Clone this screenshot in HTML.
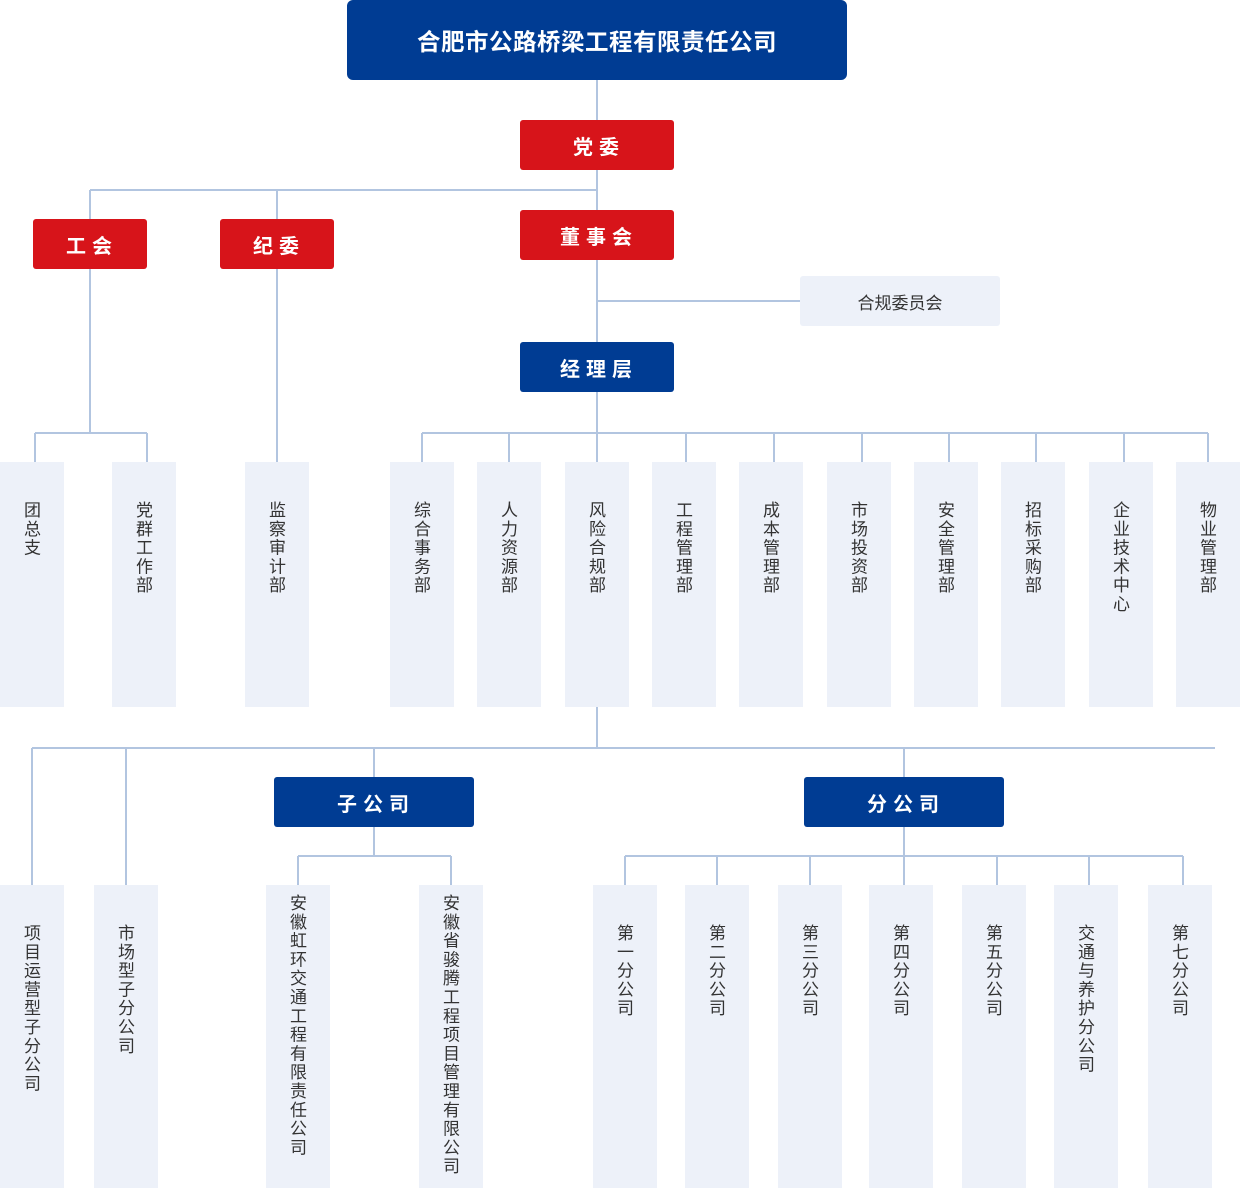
<!DOCTYPE html>
<html><head><meta charset="utf-8"><style>
*{margin:0;padding:0;box-sizing:border-box}
body{width:1240px;height:1188px;position:relative;background:#fff;font-family:"Liberation Sans","Noto Sans CJK SC",sans-serif;overflow:hidden}
svg{position:absolute;left:0;top:0}
.b{position:absolute;display:flex;align-items:center;justify-content:center;color:#fff;font-weight:bold;border-radius:3px;font-size:20px;letter-spacing:6px;padding-left:4px}
.r{background:#d7141a}.u{background:#003c93}
.v{position:absolute;width:64px;background:#edf1f9;color:#333;font-size:17px;writing-mode:vertical-rl;text-orientation:upright;letter-spacing:1.8px;line-height:60px;padding-right:4px;text-align:start}
</style></head><body>
<svg width="1240" height="1188"><g stroke="#b2c5e0" stroke-width="2" fill="none">
<path d="M597 80V748M90 190H597M90 190V433M277 190V462M35 433H147M35 433V462M147 433V462M597 301H800"/>
<path d="M422 433H1208M422 433V462M509 433V462M686 433V462M774 433V462M862 433V462M949 433V462M1036 433V462M1124 433V462M1208 433V462"/>
<path d="M32 748H1215M32 748V885M126 748V885M374 748V777M904 748V777M374 827V856M298 856H451M298 856V885M451 856V885"/>
<path d="M904 827V885M625 856H1183M625 856V885M717 856V885M810 856V885M997 856V885M1089 856V885M1183 856V885"/>
</g></svg>
<div class="b u" style="left:347px;top:0;width:500px;height:80px;border-radius:6px;font-size:23.5px;letter-spacing:0.5px;padding-left:0">合肥市公路桥梁工程有限责任公司</div>
<div class="b r" style="left:520px;top:120px;width:154px;height:50px">党委</div>
<div class="b r" style="left:33px;top:219px;width:114px;height:50px">工会</div>
<div class="b r" style="left:220px;top:219px;width:114px;height:50px">纪委</div>
<div class="b r" style="left:520px;top:210px;width:154px;height:50px">董事会</div>
<div class="b" style="left:800px;top:276px;width:200px;height:50px;background:#edf1f9;color:#333;font-weight:normal;font-size:17px;letter-spacing:0;padding:0">合规委员会</div>
<div class="b u" style="left:520px;top:342px;width:154px;height:50px">经理层</div>
<div class="b u" style="left:274px;top:777px;width:200px;height:50px">子公司</div>
<div class="b u" style="left:804px;top:777px;width:200px;height:50px">分公司</div>

<div class="v" style="left:0;top:462px;height:245px;padding-top:39px">团总支</div>
<div class="v" style="left:112px;top:462px;height:245px;padding-top:39px">党群工作部</div>
<div class="v" style="left:245px;top:462px;height:245px;padding-top:39px">监察审计部</div>
<div class="v" style="left:390px;top:462px;height:245px;padding-top:39px">综合事务部</div>
<div class="v" style="left:477px;top:462px;height:245px;padding-top:39px">人力资源部</div>
<div class="v" style="left:565px;top:462px;height:245px;padding-top:39px">风险合规部</div>
<div class="v" style="left:652px;top:462px;height:245px;padding-top:39px">工程管理部</div>
<div class="v" style="left:739px;top:462px;height:245px;padding-top:39px">成本管理部</div>
<div class="v" style="left:827px;top:462px;height:245px;padding-top:39px">市场投资部</div>
<div class="v" style="left:914px;top:462px;height:245px;padding-top:39px">安全管理部</div>
<div class="v" style="left:1001px;top:462px;height:245px;padding-top:39px">招标采购部</div>
<div class="v" style="left:1089px;top:462px;height:245px;padding-top:39px">企业技术中心</div>
<div class="v" style="left:1176px;top:462px;height:245px;padding-top:39px">物业管理部</div>

<div class="v" style="left:0;top:885px;height:303px;padding-top:39px">项目运营型子分公司</div>
<div class="v" style="left:94px;top:885px;height:303px;padding-top:39px">市场型子分公司</div>
<div class="v" style="left:266px;top:885px;height:303px;padding-top:9px">安徽虹环交通工程有限责任公司</div>
<div class="v" style="left:419px;top:885px;height:303px;padding-top:9px">安徽省骏腾工程项目管理有限公司</div>
<div class="v" style="left:593px;top:885px;height:303px;padding-top:39px">第一分公司</div>
<div class="v" style="left:685px;top:885px;height:303px;padding-top:39px">第二分公司</div>
<div class="v" style="left:778px;top:885px;height:303px;padding-top:39px">第三分公司</div>
<div class="v" style="left:869px;top:885px;height:303px;padding-top:39px">第四分公司</div>
<div class="v" style="left:962px;top:885px;height:303px;padding-top:39px">第五分公司</div>
<div class="v" style="left:1054px;top:885px;height:303px;padding-top:39px">交通与养护分公司</div>
<div class="v" style="left:1148px;top:885px;height:303px;padding-top:39px">第七分公司</div>
</body></html>
